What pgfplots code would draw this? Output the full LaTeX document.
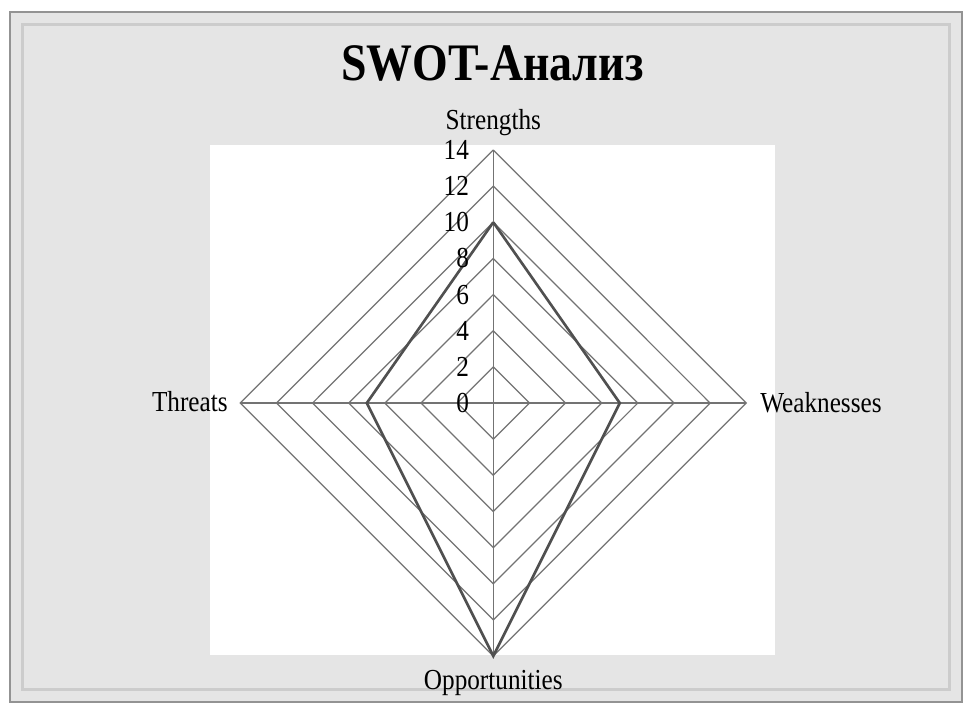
\documentclass[border=0pt]{standalone}
\usepackage{fontspec}
\setmainfont{Liberation Serif}[FakeStretch=0.87]
\usepackage{pgfplots}
\pgfplotsset{compat=1.18}
\definecolor{bgray}{RGB}{229,229,229}
\definecolor{gridc}{RGB}{115,115,115}
\definecolor{datac}{RGB}{80,80,80}
\begin{document}
\begin{tikzpicture}
\begin{axis}[
  scale only axis,
  width=19.28cm, height=14.14cm,
  xmin=-27.30, xmax=26.05,
  ymin=-16.82, ymax=22.30,
  hide axis, clip=false,
]
% frame and plot area
\fill[bgray] (axis cs:-26.75,-16.55) rectangle (axis cs:25.94,21.64);
\draw[gray!85, line width=1.2pt] (axis cs:-26.75,-16.55) rectangle (axis cs:25.94,21.64);
\draw[gray!40, line width=2pt] (axis cs:-26.05,-15.85) rectangle (axis cs:25.25,20.95);
\fill[white] (axis cs:-15.68,-13.95) rectangle (axis cs:15.59,14.28);
% grid rings
\pgfplotsinvokeforeach{2,4,6,8,10,12,14}{
  \addplot[gridc, line width=0.7pt] coordinates {(0,#1) (#1,0) (0,-#1) (-#1,0) (0,#1)};
}
% spokes
\addplot[gridc, line width=0.7pt] coordinates {(0,14) (0,-14)};
\addplot[gridc, line width=0.7pt] coordinates {(-14,0) (14,0)};
% data
\addplot[datac, line width=1.5pt] coordinates {(0,10) (7,0) (0,-14) (-7,0) (0,10)};
% tick labels
\addplot[draw=none, mark=none, point meta=explicit symbolic,
  nodes near coords, every node near coord/.style={anchor=east, xshift=-0.48cm, font=\fontsize{16.5}{17}\selectfont, inner sep=0pt}]
  coordinates {(0,0)[0] (0,2)[2] (0,4)[4] (0,6)[6] (0,8)[8] (0,10)[10] (0,12)[12] (0,14)[14]};
% category labels and title
\node[anchor=base, font=\fontsize{16.5}{18}\selectfont] at (axis cs:0,15.16) {Strengths};
\node[anchor=base west, font=\fontsize{16.5}{18}\selectfont, inner sep=0pt] at (axis cs:14.76,-0.55) {Weaknesses};
\node[anchor=base, font=\fontsize{16.5}{18}\selectfont] at (axis cs:0,-15.83) {Opportunities};
\node[anchor=base east, font=\fontsize{16.5}{18}\selectfont, inner sep=0pt] at (axis cs:-14.68,-0.48) {Threats};
\node[anchor=base, font=\fontsize{30}{32}\bfseries] at (axis cs:-0.05,17.87) {SWOT-Анализ};
\end{axis}
\pgfresetboundingbox
\path (current axis.south west) rectangle (current axis.north east);
\end{tikzpicture}
\end{document}
